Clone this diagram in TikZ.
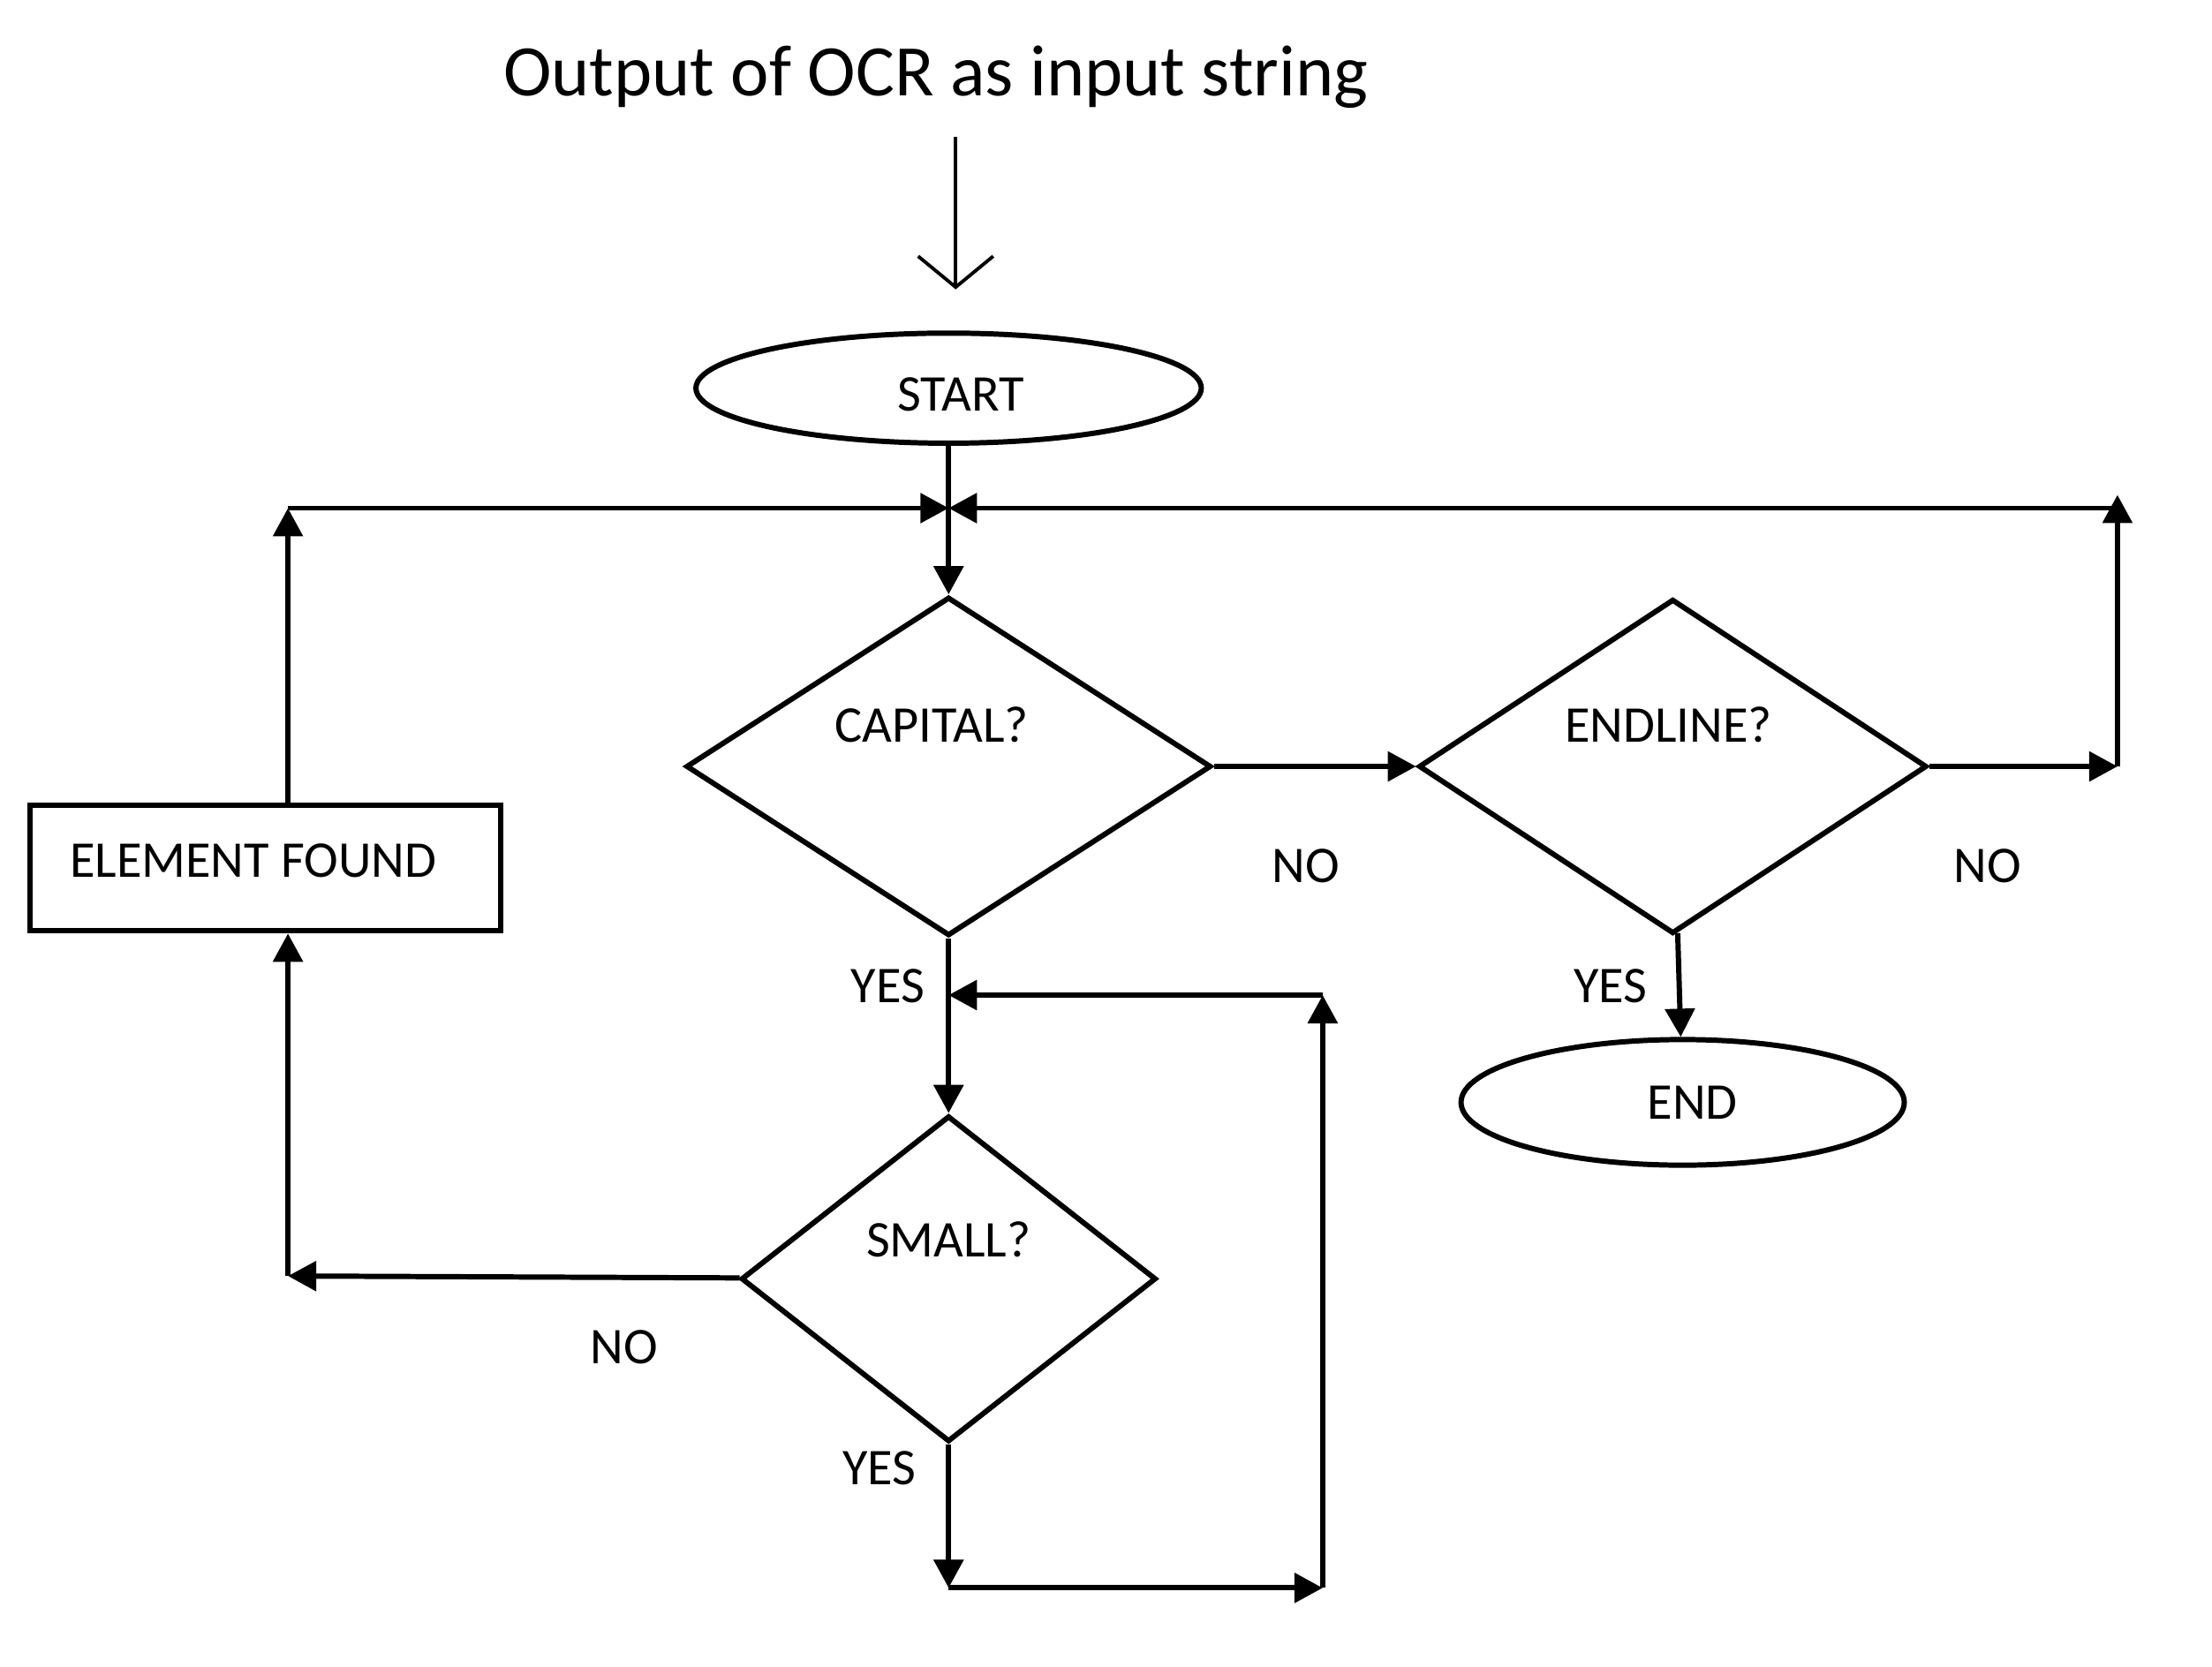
\documentclass[tikz,border=0pt]{standalone}
\usepackage{fontspec}
\setmainfont{Carlito}
\usetikzlibrary{shapes, arrows.meta, positioning}
\newcommand{\dpx}{0.01599cm}
\begin{document}
\begin{tikzpicture}[x=\dpx, y=-\dpx, font=\fontsize{16.6}{20}\selectfont,
		flow/.style={line width=1.7pt, -{Triangle[length=0.32cm, width=0.33cm]}},
		decision/.style={draw, diamond, line width=1.7pt, inner sep=0pt},
		terminal/.style={draw, ellipse, line width=1.7pt, inner sep=0pt},
		process/.style={draw, rectangle, line width=1.7pt, inner sep=0pt},
		tag/.style={anchor=base}]
		\useasboundingbox (0,0) rectangle (1567,1181);
		\node[tag, font=\fontsize{23.4}{28}\selectfont] (title) at (663,68) {Output of OCR as input string};
		\coordinate (ta) at (677,97);
		\coordinate (tb) at (677,205);
		\draw[line width=1.1pt, -{Straight Barb[length=0.35cm, width=0.85cm]}] (ta) -- (tb);
		\node[terminal, minimum width=358*\dpx, minimum height=78*\dpx, label={[xshift=0.14cm, yshift=-0.07cm]center:START}] (start) at (672,275) {};
		\node[decision, minimum width=372*\dpx, minimum height=240*\dpx, label={[xshift=-0.19cm, yshift=0.47cm]center:CAPITAL?}] (capital) at (672,543) {};
		\node[decision, minimum width=360*\dpx, minimum height=237*\dpx, label={[xshift=-0.05cm, yshift=0.47cm]center:ENDLINE?}] (endline) at (1185,543) {};
		\node[decision, minimum width=294*\dpx, minimum height=231*\dpx, label={[yshift=0.45cm]center:SMALL?}] (small) at (672,906) {};
		\node[terminal, minimum width=314*\dpx, minimum height=89*\dpx, label={[xshift=0.11cm]center:END}] (end) at (1192,781) {};
		\node[process, minimum width=333*\dpx, minimum height=89*\dpx, label={[xshift=-0.14cm, yshift=0.08cm]center:ELEMENT FOUND}] (found) at (188,615) {};
		\coordinate (jn) at (672,360);
		\coordinate (lup) at (204,360);
		\coordinate (ldn) at (204,904);
		\coordinate (rdn) at (1500,543);
		\coordinate (rup) at (1500,360);
		\coordinate (bl) at (672,1125);
		\coordinate (br) at (937,1125);
		\coordinate (tr) at (937,705);
		\coordinate (tl) at (672,705);
		\draw[flow] (start) -- (capital);
		\draw[flow] (lup |- found.north) -- (lup);
		\draw[flow] (lup) -- (jn);
		\draw[flow] (endline) -- (rdn);
		\draw[flow] (rdn) -- ([yshift=0.15cm]rup);
		\draw[flow] (rup) -- (jn);
		\draw[flow] (capital) -- (endline);
		\draw[flow] (endline) -- (end);
		\draw[flow] (capital) -- (small);
		\draw[flow] (small) -- (bl);
		\draw[flow] (bl) -- (br);
		\draw[flow] (br) -- (tr);
		\draw[flow] (tr) -- (tl);
		\draw[flow] (small) -- (ldn);
		\draw[flow] (ldn) -- (lup |- found.south);
		\node[tag] (no1) at (925,625) {NO};
		\node[tag] (no2) at (1408,625) {NO};
		\node[tag] (no3) at (442,966) {NO};
		\node[tag] (yes1) at (629,710) {YES};
		\node[tag] (yes2) at (1141,710) {YES};
		\node[tag] (yes3) at (623,1052) {YES};
	\end{tikzpicture}
\end{document}
